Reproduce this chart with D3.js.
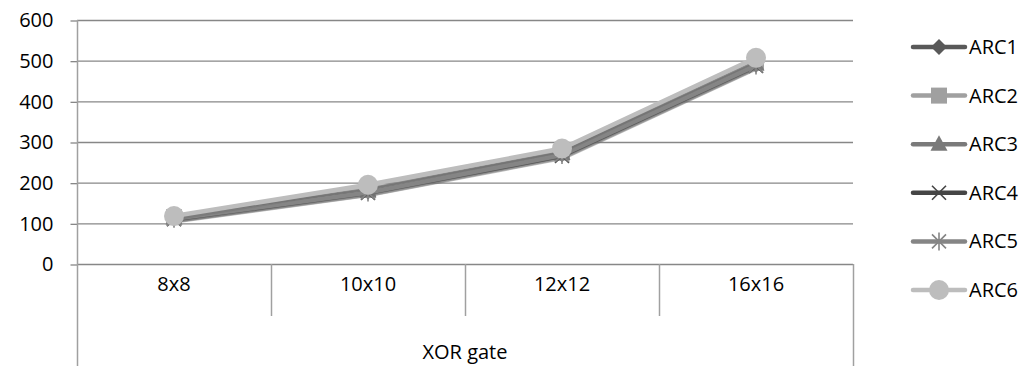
<!DOCTYPE html>
<html>
<head>
<meta charset="utf-8">
<script src="https://cdn.jsdelivr.net/npm/d3@7"></script>
<style>
  body { margin: 0; background: #fff; }
  svg { display: block; font-family: "Open Sans", "Liberation Sans", sans-serif; }
</style>
</head>
<body>
<svg id="chart" width="1033" height="366"></svg>
<script>
// Category labels and group label
const categories = ["8x8", "10x10", "12x12", "16x16"];
const groupLabel = "XOR gate";
const yTicks = [0, 100, 200, 300, 400, 500, 600];

// Series values (one array per architecture)
const arc1 = [112, 178, 270, 490];
const arc2 = [115, 182, 274, 495];
const arc3 = [113, 180, 272, 492];
const arc4 = [110, 175, 266, 487];
const arc5 = [111, 176, 268, 488];
const arc6 = [118, 195, 284, 507];
const seriesNames = ["ARC1", "ARC2", "ARC3", "ARC4", "ARC5", "ARC6"];

const series = [
  { name: seriesNames[0], values: arc1, color: "#595959", symbol: "diamond" },
  { name: seriesNames[1], values: arc2, color: "#a0a0a0", symbol: "square" },
  { name: seriesNames[2], values: arc3, color: "#7a7a7a", symbol: "triangle" },
  { name: seriesNames[3], values: arc4, color: "#454545", symbol: "x" },
  { name: seriesNames[4], values: arc5, color: "#858585", symbol: "star" },
  { name: seriesNames[5], values: arc6, color: "#bdbdbd", symbol: "circle" }
];

const FONT = 20;
const svg = d3.select("#chart");
const plotLeft = 77, plotRight = 853, plotTop = 20, plotBottom = 264;

const x = d3.scaleBand().domain(categories).range([plotLeft, plotRight]).paddingInner(0).paddingOuter(0);
const y = d3.scaleLinear().domain([0, 600]).range([plotBottom, plotTop]);
const gridColor = "#878787";

// Horizontal gridlines
svg.append("g").selectAll("line").data(yTicks).join("line")
  .attr("x1", plotLeft).attr("x2", plotRight)
  .attr("y1", d => y(d) + 0.5).attr("y2", d => y(d) + 0.5)
  .attr("stroke", gridColor).attr("stroke-width", 1.3);

// Y axis
const yAxis = d3.axisLeft(y).tickValues(yTicks).tickSize(7).tickPadding(17);
const gy = svg.append("g").attr("transform", `translate(${plotLeft + 0.5},0.5)`).call(yAxis);
gy.select(".domain").remove();
gy.selectAll(".tick line").attr("stroke", gridColor).attr("stroke-width", 1.3);
gy.selectAll(".tick text").attr("font-size", FONT).attr("fill", "#000")
  .attr("font-family", "'Open Sans', 'Liberation Sans', sans-serif");
svg.append("line").attr("x1", plotLeft + 0.5).attr("x2", plotLeft + 0.5)
  .attr("y1", plotTop).attr("y2", 366).attr("stroke", "#a0a0a0").attr("stroke-width", 1.5);

// Category separators below the plot
const bounds = categories.map(c => x(c)).concat([plotRight]);
svg.append("g").selectAll("line").data(bounds.slice(1)).join("line")
  .attr("x1", d => d + 0.5).attr("x2", d => d + 0.5)
  .attr("y1", plotBottom).attr("y2", (d, i) => i === bounds.length - 2 ? 366 : 316)
  .attr("stroke", "#a0a0a0").attr("stroke-width", 1.5);

// Category labels
svg.append("g").selectAll("text").data(categories).join("text")
  .attr("x", d => x(d) + x.bandwidth() / 2).attr("y", 291)
  .attr("text-anchor", "middle").attr("font-size", FONT).attr("fill", "#000")
  .text(d => d);
svg.append("text").attr("x", (plotLeft + plotRight) / 2).attr("y", 359)
  .attr("text-anchor", "middle").attr("font-size", FONT).attr("fill", "#000")
  .text(groupLabel);

// Marker drawing
function marker(g, type, color) {
  if (type === "diamond") {
    g.append("path").attr("d", "M0,-8L8,0L0,8L-8,0Z").attr("fill", color);
  } else if (type === "square") {
    g.append("rect").attr("x", -8).attr("y", -8).attr("width", 16).attr("height", 16).attr("fill", color);
  } else if (type === "triangle") {
    g.append("path").attr("d", "M0,-9L8.5,6.5L-8.5,6.5Z").attr("fill", color);
  } else if (type === "x") {
    g.append("path").attr("d", "M-7,-7L7,7M-7,7L7,-7")
      .attr("stroke", color).attr("stroke-width", 1.6).attr("fill", "none");
  } else if (type === "star") {
    g.append("path").attr("d", "M-7,-7L7,7M-7,7L7,-7M0,-9L0,9")
      .attr("stroke", color).attr("stroke-width", 1.6).attr("fill", "none");
  } else {
    g.append("circle").attr("r", 10).attr("fill", color);
  }
}

const line = d3.line().x((d, i) => x(categories[i]) + x.bandwidth() / 2).y(d => y(d));

// Series lines and markers, drawn in order so the last series sits on top
series.forEach(s => {
  const g = svg.append("g");
  g.append("path").datum(s.values).attr("d", line)
    .attr("fill", "none").attr("stroke", "#6e6e6e").attr("stroke-width", 4.5)
    .attr("transform", "translate(1,2)").attr("opacity", 0.45);
  g.append("path").datum(s.values).attr("d", line)
    .attr("fill", "none").attr("stroke", s.color).attr("stroke-width", 4.5)
    .attr("stroke-linejoin", "round");
  s.values.forEach((v, i) => {
    const m = g.append("g").attr("transform", `translate(${x(categories[i]) + x.bandwidth() / 2},${y(v)})`);
    marker(m, s.symbol, s.color);
  });
});

// Legend
const legend = svg.append("g");
series.forEach((s, i) => {
  const ly = 47 + i * 48.6;
  const g = legend.append("g").attr("transform", `translate(0,${ly})`);
  g.append("line").attr("x1", 913).attr("x2", 965).attr("y1", 0).attr("y2", 0)
    .attr("stroke", s.color).attr("stroke-width", 4.5).attr("stroke-linecap", "round");
  const m = g.append("g").attr("transform", "translate(939,0)");
  marker(m, s.symbol, s.color);
  g.append("text").attr("x", 969).attr("y", 7).attr("font-size", FONT).attr("fill", "#000").text(s.name);
});
</script>
</body>
</html>
